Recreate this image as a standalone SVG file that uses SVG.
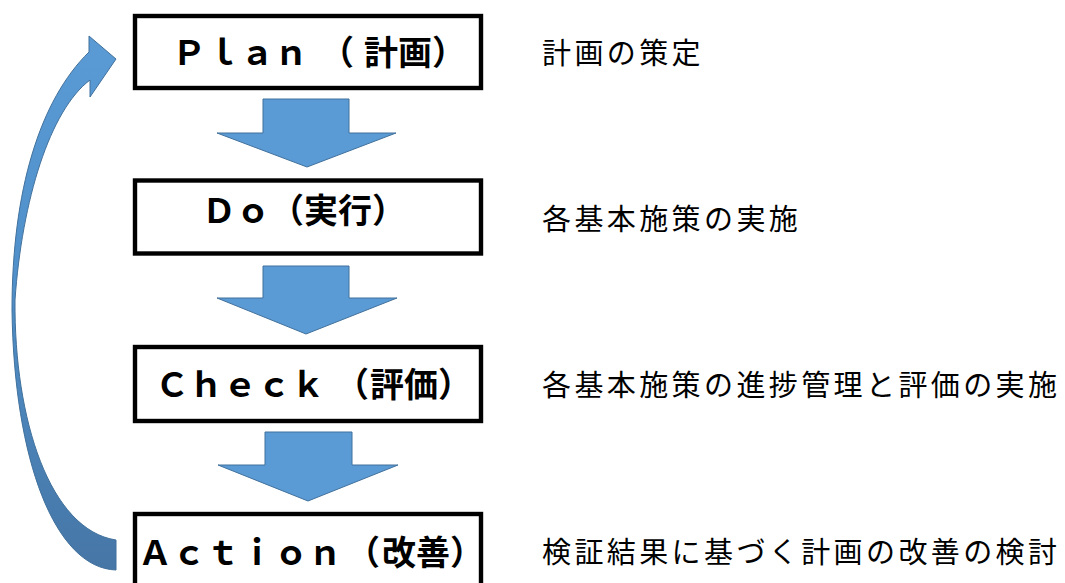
<svg xmlns="http://www.w3.org/2000/svg" width="1065" height="583" viewBox="0 0 1065 583">
  <style>
    .box { fill: #ffffff; stroke: #000000; stroke-width: 4.4; }
    .blabel { font-family: "Noto Sans CJK JP", "Noto Sans CJK SC", sans-serif; font-size: 34px; font-weight: bold; fill: #000000; }
    .desc { font-family: "Noto Sans CJK JP", "Noto Sans CJK SC", sans-serif; font-size: 29px; letter-spacing: 3.4px; fill: #000000; }
    .down { fill: #5B9BD5; stroke: #41719C; stroke-width: 1; }
  </style>
  <defs>
    <linearGradient id="curveGrad" x1="0" y1="0" x2="0" y2="1" gradientUnits="objectBoundingBox">
      <stop offset="0" stop-color="#5B9BD5"/>
      <stop offset="0.45" stop-color="#5090CA"/>
      <stop offset="1" stop-color="#4676A6"/>
    </linearGradient>
  </defs>
  <rect width="1065" height="583" fill="#ffffff"/>

  <g id="connectors">
    <path class="down" d="M263,99 L349,99 L349,133 L396,133 L307,167 L217,133 L263,133 Z"/>
    <path class="down" d="M263,266 L349,266 L349,298 L397,298 L306,334 L217,298 L263,298 Z"/>
    <path class="down" d="M265,432 L352,432 L352,465 L398,465 L308,501 L218,465 L265,465 Z"/>
    <path d="M116,540 L116,570 C55,568 14,460 12,310 C12,190 40,100 89,52 L89,36 L116,59 L90,97 L90,80 C50,110 22,200 15,300 C14,420 50,530 116,540 Z" fill="url(#curveGrad)" stroke="#41719C" stroke-width="1"/>
  </g>

  <g id="node-plan">
    <rect class="box" x="135" y="16" width="346" height="72"/>
    <text class="blabel" x="172" y="65">Ｐｌａｎ<tspan dx="12">（</tspan><tspan dx="10">計画）</tspan></text>
  </g>
  <g id="node-do">
    <rect class="box" x="135" y="180.5" width="346" height="73"/>
    <text class="blabel" x="202" y="223">Ｄｏ（実行）</text>
  </g>
  <g id="node-check">
    <rect class="box" x="135" y="347" width="346" height="74"/>
    <text class="blabel" x="155" y="397">Ｃｈｅｃｋ<tspan dx="10">（</tspan><tspan dx="1">評価）</tspan></text>
  </g>
  <g id="node-action">
    <rect class="box" x="135" y="514" width="346" height="80"/>
    <text class="blabel" x="138" y="565">Ａｃｔｉｏｎ<tspan dx="4">（</tspan><tspan dx="2">改善）</tspan></text>
  </g>

  <g id="descriptions">
    <text class="desc" x="542" y="64">計画の策定</text>
    <text class="desc" x="542" y="230">各基本施策の実施</text>
    <text class="desc" x="542" y="396">各基本施策の進捗管理と評価の実施</text>
    <text class="desc" x="542" y="563">検証結果に基づく計画の改善の検討</text>
  </g>
</svg>
